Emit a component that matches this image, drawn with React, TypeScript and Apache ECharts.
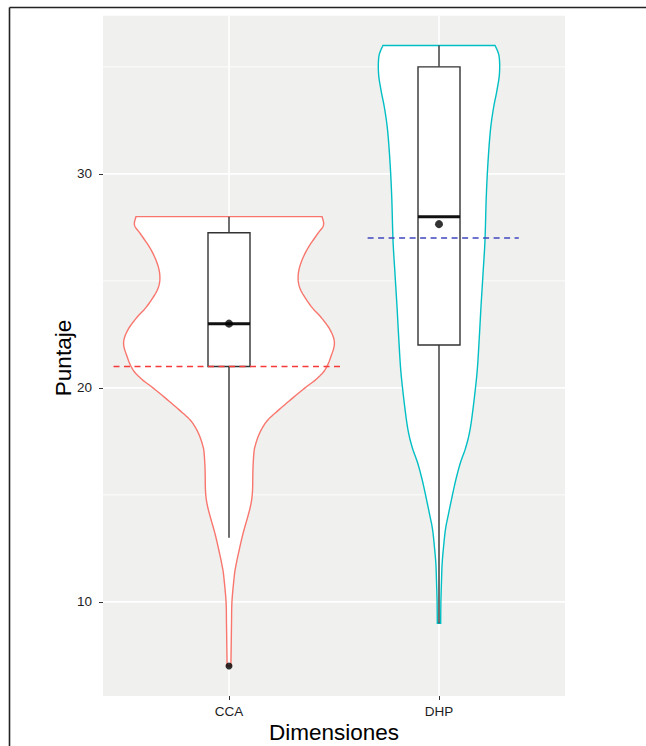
import React, { useEffect, useRef } from "react";
import * as echarts from "echarts";

// ---- data ----
const categories = ["CCA", "DHP"];
const yTickValues = [10, 20, 30];
const yMinorValues = [15, 25, 35];
const violinColors = ["#F8766D", "#00BFC4"];

// violin profiles: [score, half-width in category units]
const ccaViolin: [number, number][] = [
  [7, 0.009], [8, 0.0105], [9, 0.012], [10, 0.014], [11.1, 0.024], [11.6, 0.031],
  [12.4, 0.048], [13.2, 0.067], [14, 0.09], [14.6, 0.105], [15.2, 0.112], [16.2, 0.114],
  [17.0, 0.119], [17.3, 0.125], [17.7, 0.138], [18.1, 0.157], [18.5, 0.185], [18.9, 0.229],
  [19.3, 0.276], [20, 0.362], [20.4, 0.415], [20.84, 0.457], [21.45, 0.485], [22.1, 0.502],
  [22.7, 0.482], [23.3, 0.438], [23.7, 0.4], [24.1, 0.37], [24.6, 0.34], [25.1, 0.329],
  [25.7, 0.338], [26.45, 0.371], [27.2, 0.422], [27.6, 0.45], [28, 0.443],
];
const dhpViolin: [number, number][] = [
  [9, 0.008], [10, 0.009], [11, 0.012], [11.8, 0.015], [12.6, 0.022], [13.4, 0.031],
  [14.1, 0.045], [14.9, 0.062], [15.7, 0.08], [16.5, 0.102], [17.2, 0.127], [18.0, 0.147],
  [19.1, 0.163], [20.7, 0.181], [22.2, 0.191], [23.8, 0.2], [25.4, 0.21], [26.9, 0.219],
  [28.9, 0.225], [30.5, 0.233], [32.05, 0.245], [33.1, 0.26], [33.9, 0.276], [34.7, 0.288],
  [35.5, 0.286], [36, 0.267],
];
const violins = [ccaViolin, dhpViolin];

// box stats: [lower whisker, Q1, median, Q3, upper whisker]
const boxStats = [
  [13, 21, 23, 27.25, 28],
  [9, 22, 28, 35, 36],
];
const outliers = [[1, 7]];
const means = [[1, 23], [2, 27.65]];

// reference (dashed) lines
const refValues = [21, 27];
const refStart = [0.45, 1.66];
const refEnd = [1.55, 2.38];
const refColors = ["#F53A3A", "#3F46BF"];

const Y_MIN = 5.6;
const Y_MAX = 37.39;
const FONT = "Liberation Sans, Arial, sans-serif";

// render-time Catmull-Rom smoothing of pixel outline
function smoothLine(pts: number[][], seg = 8): number[][] {
  const n = pts.length;
  const out: number[][] = [];
  for (let i = 0; i < n - 1; i++) {
    const p0 = pts[Math.max(i - 1, 0)];
    const p1 = pts[i];
    const p2 = pts[i + 1];
    const p3 = pts[Math.min(i + 2, n - 1)];
    for (let s = 0; s < seg; s++) {
      const t = s / seg;
      const t2 = t * t;
      const t3 = t2 * t;
      const f = (a: number, b: number, c: number, d: number) =>
        0.5 * (2 * b + (-a + c) * t + (2 * a - 5 * b + 4 * c - d) * t2 + (-a + 3 * b - 3 * c + d) * t3);
      out.push([f(p0[0], p1[0], p2[0], p3[0]), f(p0[1], p1[1], p2[1], p3[1])]);
    }
  }
  out.push(pts[n - 1]);
  return out;
}

export default function App() {
  const ref = useRef<HTMLDivElement>(null);

  useEffect(() => {
    if (!ref.current) return;
    const chart = echarts.init(ref.current, null, { renderer: "svg" });

    const gridItems: any[] = [];
    yTickValues.forEach((v) => gridItems.push(["y", v, 1.6]));
    yMinorValues.forEach((v) => gridItems.push(["y", v, 0.8]));
    categories.forEach((_, i) => gridItems.push(["x", i + 1, 1.6]));

    const option: any = {
      animation: false,
      backgroundColor: "#ffffff",
      grid: {
        left: 103,
        top: 15.7,
        width: 462,
        height: 680.3,
        show: true,
        backgroundColor: "#F0F0EF",
        borderWidth: 0,
      },
      xAxis: {
        type: "value",
        min: 0.4,
        max: 2.6,
        axisLine: { show: false },
        splitLine: { show: false },
        axisTick: {
          show: true,
          customValues: [1, 2],
          length: 4,
          lineStyle: { color: "#333333", width: 1 },
        },
        axisLabel: {
          show: true,
          customValues: [1, 2],
          margin: 8,
          color: "#1E1E1E",
          fontSize: 13.5,
          fontFamily: FONT,
          formatter: (v: number) => categories[Math.round(v) - 1] ?? "",
        },
      },
      yAxis: {
        type: "value",
        min: Y_MIN,
        max: Y_MAX,
        axisLine: { show: false },
        splitLine: { show: false },
        axisTick: {
          show: true,
          customValues: yTickValues,
          length: 4,
          lineStyle: { color: "#333333", width: 1 },
        },
        axisLabel: {
          show: true,
          customValues: yTickValues,
          margin: 11,
          color: "#1E1E1E",
          fontSize: 13.5,
          fontFamily: FONT,
        },
      },
      graphic: [
        {
          type: "line",
          shape: { x1: 9.5, y1: 7.5, x2: 646, y2: 7.5 },
          style: { stroke: "#222222", lineWidth: 1.6 },
        },
        {
          type: "line",
          shape: { x1: 9.5, y1: 7.5, x2: 9.5, y2: 746 },
          style: { stroke: "#222222", lineWidth: 1.6 },
        },
        {
          type: "text",
          x: 63,
          y: 358,
          rotation: Math.PI / 2,
          style: {
            text: "Puntaje",
            fontSize: 22.5,
            fontFamily: FONT,
            fill: "#000000",
            align: "center",
            verticalAlign: "middle",
          },
        },
        {
          type: "text",
          x: 334,
          y: 732,
          style: {
            text: "Dimensiones",
            fontSize: 22.5,
            fontFamily: FONT,
            fill: "#000000",
            align: "center",
            verticalAlign: "middle",
          },
        },
      ],
      series: [
        {
          type: "custom",
          name: "grid",
          z: 1,
          silent: true,
          data: gridItems.map((_, i) => [i]),
          renderItem: (params: any, api: any) => {
            const item = gridItems[params.dataIndex];
            const cs = params.coordSys;
            if (item[0] === "y") {
              const p = api.coord([1, item[1]]);
              return {
                type: "line",
                shape: { x1: cs.x, y1: p[1], x2: cs.x + cs.width, y2: p[1] },
                style: { stroke: "#FFFFFF", lineWidth: item[2] },
              };
            }
            const p = api.coord([item[1], 20]);
            return {
              type: "line",
              shape: { x1: p[0], y1: cs.y, x2: p[0], y2: cs.y + cs.height },
              style: { stroke: "#FFFFFF", lineWidth: item[2] },
            };
          },
        },
        {
          type: "custom",
          name: "violin",
          z: 2,
          data: violins.map((_, i) => [i + 1]),
          renderItem: (params: any, api: any) => {
            const i = params.dataIndex;
            const prof = violins[i];
            const c = i + 1;
            const left = smoothLine(prof.map(([v, h]) => api.coord([c - h, v])));
            const right = smoothLine(prof.map(([v, h]) => api.coord([c + h, v]))).reverse();
            return {
              type: "polygon",
              shape: { points: left.concat(right) },
              style: { fill: "#FFFFFF", stroke: violinColors[i], lineWidth: 1.4 },
            };
          },
        },
        {
          type: "custom",
          name: "box",
          z: 3,
          data: boxStats.map((_, i) => [i + 1]),
          renderItem: (params: any, api: any) => {
            const i = params.dataIndex;
            const [lo, q1, med, q3, hi] = boxStats[i];
            const c = i + 1;
            const hw = 0.1;
            const pLo = api.coord([c, lo]);
            const pHi = api.coord([c, hi]);
            const pQ1 = api.coord([c, q1]);
            const pQ3 = api.coord([c, q3]);
            const pL = api.coord([c - hw, med]);
            const pR = api.coord([c + hw, med]);
            const lw = 1.4;
            const col = "#333333";
            return {
              type: "group",
              children: [
                {
                  type: "line",
                  shape: { x1: pHi[0], y1: pHi[1], x2: pQ3[0], y2: pQ3[1] },
                  style: { stroke: col, lineWidth: lw },
                },
                {
                  type: "line",
                  shape: { x1: pQ1[0], y1: pQ1[1], x2: pLo[0], y2: pLo[1] },
                  style: { stroke: col, lineWidth: lw },
                },
                {
                  type: "rect",
                  shape: { x: pL[0], y: pQ3[1], width: pR[0] - pL[0], height: pQ1[1] - pQ3[1] },
                  style: { fill: "#FFFFFF", stroke: col, lineWidth: lw },
                },
                {
                  type: "line",
                  shape: { x1: pL[0], y1: pL[1], x2: pR[0], y2: pR[1] },
                  style: { stroke: "#111111", lineWidth: 3 },
                },
              ],
            };
          },
        },
        ...refValues.map((v, i) => ({
          type: "line",
          name: "ref" + i,
          z: 4,
          silent: true,
          showSymbol: false,
          symbol: "none",
          data: [
            [refStart[i], v],
            [refEnd[i], v],
          ],
          lineStyle: { color: refColors[i], width: 1.5, type: [6, 4.5] },
        })),
        {
          type: "scatter",
          name: "outliers",
          z: 5,
          data: outliers,
          symbolSize: 7,
          itemStyle: { color: "#000000" },
        },
        {
          type: "scatter",
          name: "means",
          z: 5,
          data: means,
          symbolSize: 8,
          itemStyle: { color: "#000000" },
        },
      ],
    };

    chart.setOption(option);
    return () => chart.dispose();
  }, []);

  return (
    <div
      ref={ref}
      style={{ position: "absolute", left: 0, top: 0, width: 646, height: 746, background: "#fff" }}
    />
  );
}
